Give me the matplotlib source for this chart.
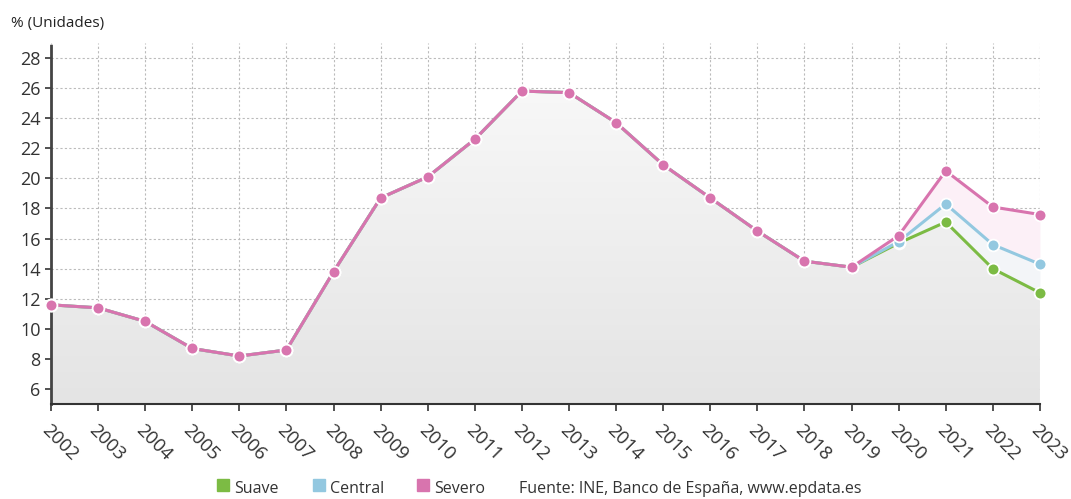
import numpy as np
import matplotlib
matplotlib.use("Agg")
import matplotlib.pyplot as plt
from matplotlib.patches import Rectangle, Polygon

plt.rcParams['font.family'] = ['Open Sans', 'DejaVu Sans']

years = list(range(2002, 2024))
severo = [11.6, 11.4, 10.5, 8.7, 8.2, 8.6, 13.8, 18.7, 20.1, 22.6, 25.8, 25.7,
          23.7, 20.9, 18.7, 16.5, 14.5, 14.1, 16.2, 20.5, 18.1, 17.6]
central = severo[:18] + [15.8, 18.3, 15.6, 14.3]
suave = severo[:18] + [15.7, 17.1, 14.0, 12.4]

series_names = ["Suave", "Central", "Severo"]
colors = {"Suave": "#7cbb44", "Central": "#93c8e0", "Severo": "#d874ae"}
source = "Fuente: INE, Banco de España, www.epdata.es"
ylabel = "% (Unidades)"

fig = plt.figure(figsize=(10.71, 4.99), dpi=100)
ax = fig.add_axes([0.0476, 0.19, 0.9234, 0.724])

x = np.array(years)
ymin, ymax = 5, 29

# gray gradient under the lowest line
verts = [(x[0], ymin)] + list(zip(x, suave)) + [(x[-1], ymin)]
poly = Polygon(verts, closed=True, facecolor="none", edgecolor="none")
ax.add_patch(poly)
grad = np.linspace(0, 1, 256).reshape(-1, 1)
img = ax.imshow(grad, cmap=matplotlib.colors.LinearSegmentedColormap.from_list(
    "g", ["#e4e4e4", "#f8f8f8"]), extent=[x[0], x[-1], ymin, 26],
    origin="lower", aspect="auto", zorder=1)
img.set_clip_path(poly)
ax.fill_between(x, suave, central, color="#f3f5f8", zorder=1, lw=0)
ax.fill_between(x, central, severo, color="#fcf0f7", zorder=1, lw=0)

data = {"Suave": suave, "Central": central, "Severo": severo}
for i, name in enumerate(series_names):
    ax.plot(x, data[name], color=colors[name], lw=2.2, marker="o", ms=8.5,
            markeredgecolor="white", markeredgewidth=1.3, zorder=3 + i,
            clip_on=False)

ax.set_xlim(2002, 2023)
ax.set_ylim(ymin, ymax)
ax.set_yticks(range(6, 29, 2))
ax.set_xticks(years)
ax.set_xticklabels([str(y) for y in years], rotation=-45, ha="left",
                   rotation_mode="anchor", fontsize=13.5, color="#333333")
ax.tick_params(axis="y", labelsize=13, labelcolor="#333333", length=4,
               color="#333333", width=1.2)
ax.tick_params(axis="x", length=5, color="#333333", width=1.2, pad=7)

ax.grid(True, color="#bbbbbb", ls=(0, (2, 2)), lw=0.8, zorder=0)
ax.set_axisbelow(True)
for s in ["top", "right"]:
    ax.spines[s].set_visible(False)
ax.spines["left"].set_color("#444444")
ax.spines["left"].set_linewidth(2)
ax.spines["left"].set_linestyle((0, (1, 1)))
ax.spines["bottom"].set_color("#333333")
ax.spines["bottom"].set_linewidth(1.5)

fig.text(0.010, 0.945, ylabel, fontsize=11, color="#222222")

# legend at the bottom
leg_y = 0.012
sq = [0.2026, 0.2923, 0.389]
for xp, name in zip(sq, series_names):
    fig.patches.append(Rectangle((xp, leg_y + 0.004), 0.0115, 0.025,
                                 transform=fig.transFigure,
                                 color=colors[name]))
    fig.text(xp + 0.016, leg_y, name, fontsize=11.5, color="#333333")
fig.text(0.4846, leg_y, source, fontsize=11.5, color="#333333")

fig.savefig("out.png", dpi=100, facecolor="white")
